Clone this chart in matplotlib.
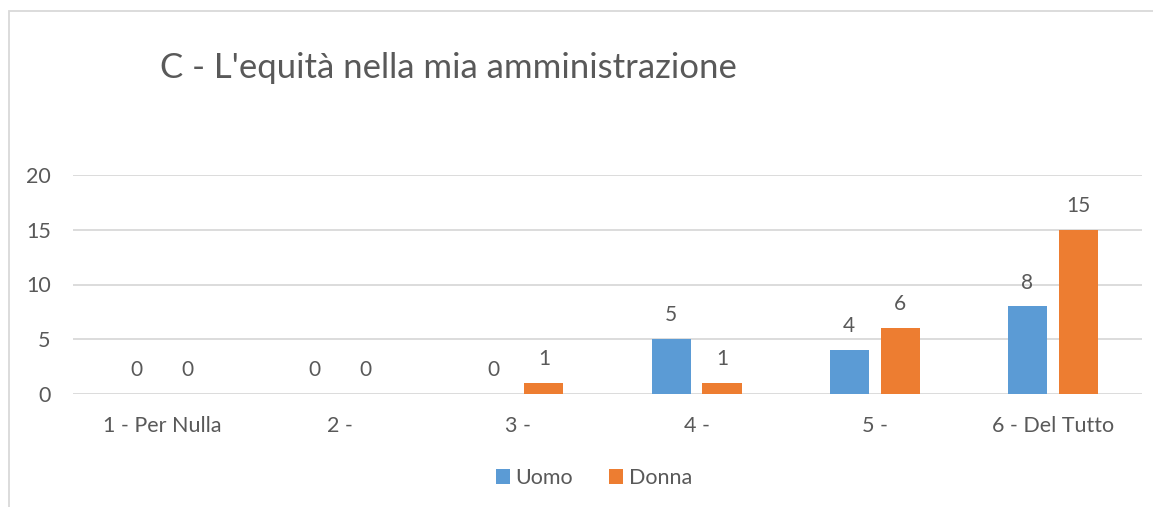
import matplotlib.pyplot as plt
import numpy as np
from matplotlib.patches import Rectangle

categorie = ["1 - Per Nulla", "2 -", "3 -", "4 -", "5 -", "6 - Del Tutto"]
uomo = [0, 0, 0, 5, 4, 8]
donna = [0, 0, 1, 1, 6, 15]

blu = "#5B9BD5"
arancio = "#ED7D31"
grigio = "#595959"

plt.rcParams["font.family"] = ["Lato", "DejaVu Sans"]

fig = plt.figure(figsize=(11.53, 5.07), dpi=100)
ax = fig.add_axes([73 / 1153, 1 - 394 / 507, (1142 - 73) / 1153, (394 - 175) / 507])

# cornice del grafico (esce dal bordo a destra e in basso)
fig.patches.append(Rectangle((9 / 1153, -0.1), 1.2, 1 - 11 / 507 + 0.1,
                             transform=fig.transFigure, fill=False,
                             edgecolor="#D9D9D9", linewidth=1.3))

x = np.arange(len(categorie))
w = 0.22
b1 = ax.bar(x - 0.143, uomo, w, color=blu, label="Uomo")
b2 = ax.bar(x + 0.143, donna, w, color=arancio, label="Donna")

for barre in (b1, b2):
    ax.bar_label(barre, padding=10, fontsize=15, color=grigio)

ax.set_xlim(-0.5, len(categorie) - 0.5)
ax.set_ylim(0, 20)
ax.set_yticks([0, 5, 10, 15, 20])
ax.set_xticks(x, categorie)
ax.yaxis.grid(True, color="#D9D9D9", linewidth=1.3)
ax.set_axisbelow(True)
for s in ax.spines.values():
    s.set_visible(False)
ax.tick_params(length=0, labelsize=15.5, colors=grigio)
ax.tick_params(axis="y", pad=16)
ax.tick_params(axis="x", pad=16)

fig.text(160 / 1153, 1 - 68 / 507, "C - L'equità nella mia amministrazione",
         fontsize=25, color=grigio, va="center", ha="left")

fig.legend(loc="center", bbox_to_anchor=(594 / 1153, 1 - 478 / 507), ncol=2,
           frameon=False, fontsize=15.5, labelcolor=grigio, handlelength=0.65,
           handleheight=0.65, handletextpad=0.25, columnspacing=1.7)

fig.savefig("out.png", dpi=100)
